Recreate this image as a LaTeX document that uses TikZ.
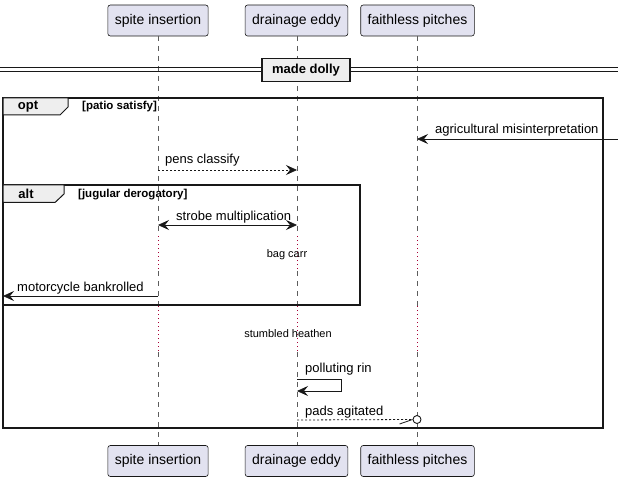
\documentclass[tikz,border=0pt]{standalone}
\usepackage{fontspec}
\setmainfont{Liberation Sans}
\usetikzlibrary{arrows.meta}
\definecolor{partfill}{HTML}{E2E2F0}
\definecolor{linec}{HTML}{181818}
\definecolor{tabfill}{HTML}{EEEEEE}
\definecolor{delayc}{HTML}{A80036}
\tikzset{
  part/.style={draw=linec, line width=0.6pt, fill=partfill, rounded corners=2.5pt,
    minimum height=31pt, inner xsep=7pt, font=\fontsize{14}{16}\selectfont},
  life/.style={draw=linec!70, line width=0.5pt, dash pattern=on 5pt off 5pt},
  lifedot/.style={draw=delayc, line width=0.7pt, dash pattern=on 1pt off 3pt},
  msg/.style={draw=linec, line width=0.8pt, -{Stealth[length=11pt,width=10pt,inset=4pt]}},
  msgtxt/.style={font=\fontsize{13}{15}\selectfont, anchor=base west, inner sep=0pt},
  frame/.style={draw=linec, line width=1.5pt},
  tab/.style={draw=linec, line width=1pt, fill=tabfill},
  tabtxt/.style={font=\bfseries\fontsize{13}{15}\selectfont, inner sep=0pt},
  condtxt/.style={font=\bfseries\fontsize{11.5}{13}\selectfont, anchor=base west, inner sep=0pt},
  delaytxt/.style={font=\fontsize{11}{13}\selectfont, inner sep=0pt},
}
\begin{document}
\begin{tikzpicture}[x=1pt,y=-1pt]
\useasboundingbox (0,0) rectangle (618,481);
% participants
\node[part] (p1t) at (158,20.5) {spite insertion};
\node[part] (p2t) at (296.5,20.5) {drainage eddy};
\node[part] (p3t) at (417.5,20.5) {faithless pitches};
\node[part] (p1b) at (158,461) {spite insertion};
\node[part] (p2b) at (296.5,461) {drainage eddy};
\node[part] (p3b) at (417.5,461) {faithless pitches};
% lifelines (x positions)
\foreach \n/\x in {1/158,2/297,3/417}{
  \coordinate (L\n a) at (\x,36);
  \coordinate (L\n b) at (\x,236);
  \coordinate (L\n c) at (\x,271);
  \coordinate (L\n d) at (\x,306);
  \coordinate (L\n e) at (\x,352);
  \coordinate (L\n f) at (\x,445);
  \draw[life] (L\n a) -- (L\n b);
  \draw[lifedot] (L\n b) -- (L\n c);
  \draw[life] (L\n c) -- (L\n d);
  \draw[lifedot] (L\n d) -- (L\n e);
  \draw[life] (L\n e) -- (L\n f);
}
% divider
\draw[linec, line width=1pt] (0,68) -- (618,68);
\draw[linec, line width=1pt] (0,72) -- (618,72);
\node[draw=linec, line width=1.6pt, fill=tabfill, minimum width=88pt, minimum height=23pt,
  font=\bfseries\fontsize{13}{15}\selectfont] (div) at (306,70) {made dolly};
% opt frame
\draw[frame] (3,98) rectangle (603,428);
\draw[tab] (3,98) -- (68,98) -- (68,107) -- (60,115) -- (3,115) -- cycle;
\node[tabtxt] (optl) at (28,107) {opt};
\node[condtxt] (optc) at (82,110) {[patio satisfy]};
% agricultural misinterpretation
\coordinate (ext) at (618,139);
\coordinate (a3) at (417,139);
\draw[msg] (ext) -- (a3);
\node[msgtxt] (t1) at (435,134) {agricultural misinterpretation};
% pens classify
\coordinate (b1) at (158,170);
\coordinate (b2) at (297,170);
\draw[msg, dash pattern=on 2pt off 2pt] (b1) -- (b2);
\node[msgtxt] (t2) at (165,164) {pens classify};
% alt frame
\draw[frame] (3,185) rectangle (360,305);
\draw[tab] (3,185) -- (64,185) -- (64,194) -- (55,202.5) -- (3,202.5) -- cycle;
\node[tabtxt] (altl) at (26,194) {alt};
\node[condtxt] (altc) at (78,197) {[jugular derogatory]};
% strobe multiplication
\coordinate (c1) at (158,225);
\coordinate (c2) at (297,225);
\draw[msg, {Stealth[length=11pt,width=10pt,inset=4pt]}-{Stealth[length=11pt,width=10pt,inset=4pt]}] (c1) -- (c2);
\node[msgtxt] (t3) at (176,220) {strobe multiplication};
% delay bag carr
\node[delaytxt] (d1) at (287,255) {bag carr};
% motorcycle bankrolled
\coordinate (e1) at (158,296);
\coordinate (e0) at (3,296);
\draw[msg] (e1) -- (e0);
\node[msgtxt] (t4) at (17,291) {motorcycle bankrolled};
% delay stumbled heathen
\node[delaytxt] (d2) at (288,333.5) {stumbled heathen};
% polluting rin (self)
\coordinate (f1) at (297,379);
\coordinate (f2) at (341,379);
\coordinate (f3) at (341,391);
\coordinate (f4) at (297,391);
\draw[msg] (f1) -- (f2) -- (f3) -- (f4);
\node[msgtxt] (t5) at (305,372) {polluting rin};
% pads agitated
\coordinate (g1) at (297,420);
\node[draw=linec, line width=0.9pt, circle, minimum size=8pt, inner sep=0pt, fill=white] (gc) at (417,419.5) {};
\draw[draw=linec, line width=0.8pt, dash pattern=on 2pt off 2pt] (g1) -- (gc.west);
\draw[draw=linec, line width=0.8pt] (gc.west) -- ++(-13,4.5);
\node[msgtxt] (t6) at (305,415) {pads agitated};
\end{tikzpicture}
\end{document}
